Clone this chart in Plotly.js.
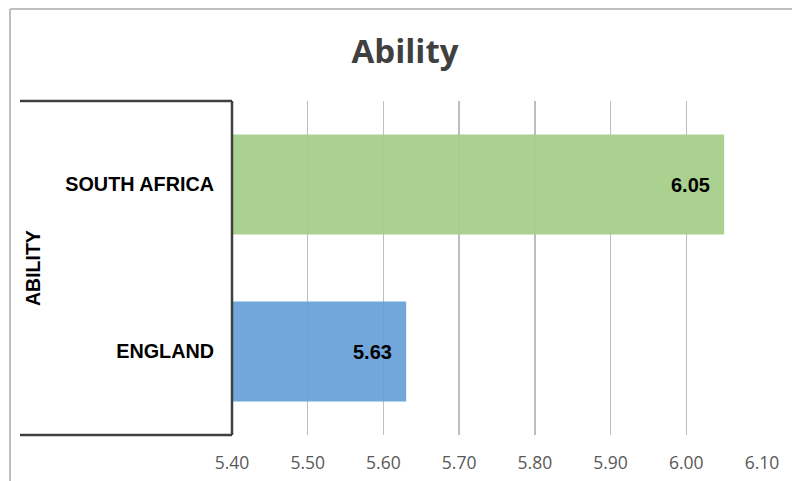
<!DOCTYPE html>
<html>
<head>
<meta charset="utf-8">
<script src="https://cdn.plot.ly/plotly-3.0.1.min.js"></script>
<style>
  html, body { margin: 0; padding: 0; background: #ffffff; }
  #chart { width: 792px; height: 481px; }
</style>
</head>
<body>
<div id="chart"></div>
<script>
// Ability scores by country
const countries = ['ENGLAND', 'SOUTH AFRICA'];
const abilityScores = [5.63, 6.05];
const barColors = ['rgba(101,160,216,0.92)', 'rgba(165,207,137,0.95)'];
const tickValues = [5.40, 5.50, 5.60, 5.70, 5.80, 5.90, 6.00, 6.10];
const groupLabel = 'ABILITY';
const chartTitle = 'Ability';

const W = 792, H = 481;
const M = { l: 232, r: 30, t: 101, b: 46 };
const plotW = W - M.l - M.r, plotH = H - M.t - M.b;
// pixel -> paper coordinate helpers
const px = x => (x - M.l) / plotW;
const py = y => (H - M.b - y) / plotH;

const bracketColor = '#404040';
const borderColor = '#BFBFBF';

const trace = {
  type: 'bar',
  orientation: 'h',
  y: countries,
  x: abilityScores,
  width: 0.6,
  marker: { color: barColors, line: { width: 0 } },
  hoverinfo: 'x+y'
};

const valueLabels = countries.map((c, i) => ({
  x: abilityScores[i],
  y: c,
  xref: 'x', yref: 'y',
  text: '<b>' + abilityScores[i].toFixed(2) + '</b>',
  showarrow: false,
  xanchor: 'right',
  xshift: -12,
  font: { family: 'Arial, Liberation Sans, sans-serif', size: 20, color: '#000000' }
}));

const layout = {
  width: W, height: H,
  margin: M,
  paper_bgcolor: '#ffffff',
  plot_bgcolor: '#ffffff',
  showlegend: false,
  title: {
    text: '<b>' + chartTitle + '</b>',
    x: (405) / W, xanchor: 'center',
    y: 1 - 51 / H, yanchor: 'middle',
    font: { family: 'Open Sans, sans-serif', size: 33, color: '#404040' }
  },
  xaxis: {
    range: [5.40, 6.10],
    tickvals: tickValues,
    ticktext: tickValues.map(v => v.toFixed(2)),
    showgrid: true,
    gridcolor: '#BDBDBD',
    gridwidth: 1.5,
    zeroline: false,
    showline: false,
    ticks: '',
    ticklabelstandoff: 15,
    tickfont: { family: 'Open Sans, sans-serif', size: 17.5, color: '#595959' },
    fixedrange: true
  },
  yaxis: {
    type: 'category',
    categoryorder: 'array',
    categoryarray: countries,
    showgrid: false,
    zeroline: false,
    showline: false,
    ticks: '',
    ticklabelstandoff: 17,
    tickfont: { family: 'Arial, Liberation Sans, sans-serif', size: 19.8, color: '#000000', weight: 'bold' },
    fixedrange: true
  },
  annotations: valueLabels.concat([
    {
      xref: 'paper', yref: 'paper',
      x: px(33), y: py(268),
      text: '<b>' + groupLabel + '</b>',
      textangle: -90,
      showarrow: false,
      xanchor: 'center', yanchor: 'middle',
      font: { family: 'Arial, Liberation Sans, sans-serif', size: 19.5, color: '#000000' }
    }
  ]),
  shapes: [
    // chart frame
    { type: 'line', xref: 'paper', yref: 'paper', x0: px(10), x1: px(792), y0: py(9), y1: py(9),
      line: { color: borderColor, width: 2 }, layer: 'above' },
    { type: 'line', xref: 'paper', yref: 'paper', x0: px(10), x1: px(10), y0: py(9), y1: py(481),
      line: { color: borderColor, width: 2 }, layer: 'above' },
    // group bracket around the category labels
    { type: 'line', xref: 'paper', yref: 'paper', x0: px(20), x1: px(232), y0: 1, y1: 1,
      line: { color: bracketColor, width: 2.5 }, layer: 'above' },
    { type: 'line', xref: 'paper', yref: 'paper', x0: px(20), x1: px(232), y0: 0, y1: 0,
      line: { color: bracketColor, width: 2.5 }, layer: 'above' },
    { type: 'line', xref: 'paper', yref: 'paper', x0: 0, x1: 0, y0: 0, y1: 1,
      line: { color: bracketColor, width: 2.5 }, layer: 'above' }
  ]
};

Plotly.newPlot('chart', [trace], layout, { displayModeBar: false, staticPlot: true });
</script>
</body>
</html>
